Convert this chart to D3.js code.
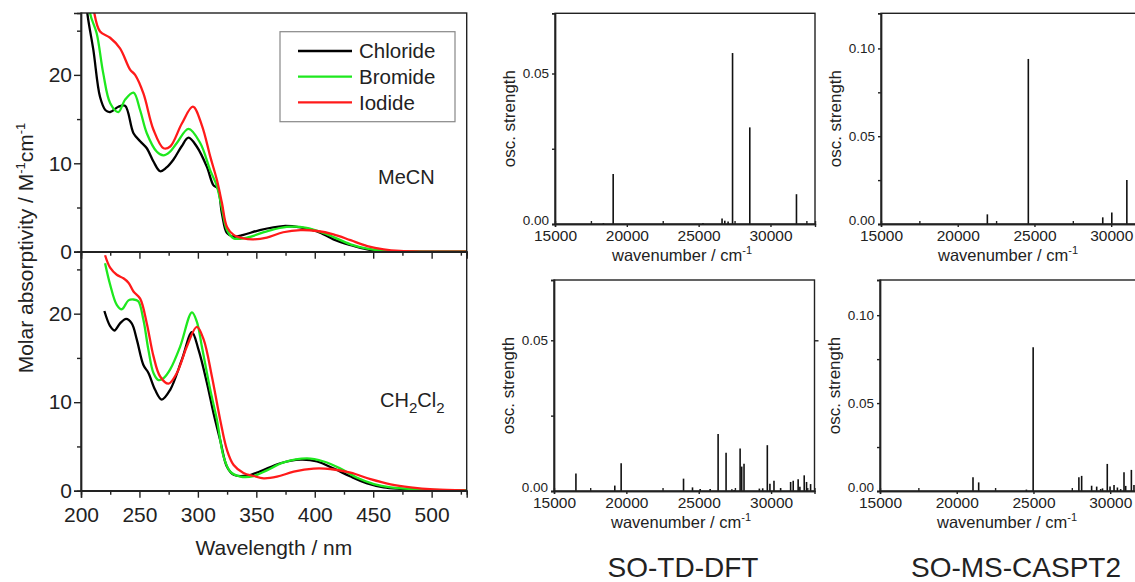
<!DOCTYPE html>
<html>
<head>
<meta charset="utf-8">
<script src="https://cdnjs.cloudflare.com/ajax/libs/d3/7.8.5/d3.min.js"></script>
<style>
  body { margin: 0; background: #fff; }
  svg { display: block; }
</style>
</head>
<body>
<div id="chart"></div>
<script>
// absorption spectra, [wavelength nm, eps / 1000 M-1cm-1]
var mecnChloride = [[203, 31], [205.4, 27], [210.6, 22.8], [216.3, 17.5], [221, 16], [225, 15.8], [232, 16.4], [237.7, 16.5],
  [244.9, 13.4], [250.6, 12.5], [256.3, 11.7], [262, 10.2], [267.7, 9.1], [273, 9.5], [279, 10.4], [286, 11.9], [292, 12.9],
  [299, 11.9], [307.7, 9.6], [313.4, 7.5], [316.9, 7.2], [320.6, 4.3], [324.9, 2.1], [330.6, 1.7], [339, 1.9], [353, 2.45],
  [373, 2.9], [387.7, 2.75], [402, 2.3], [416, 1.4], [430.6, 0.75], [444.9, 0.26], [459, 0.07], [480, 0.01], [530, 0]];
var mecnBromide = [[205, 32], [207.7, 27], [213.4, 24.7], [219, 20.2], [225, 16.8], [232, 15.8], [237.7, 17.2], [244.9, 18.0],
  [250.6, 16.0], [256.3, 13.4], [264.9, 11.3], [270.6, 10.9], [276, 11.3], [282, 12.3], [292, 13.9], [302, 12.3],
  [310.6, 9.2], [316.3, 7.4], [320.6, 4.9], [324.9, 2.45], [330.6, 1.5], [342, 1.6], [359, 2.3], [376, 2.8], [393, 2.7],
  [410.6, 1.96], [430.6, 0.83], [444.9, 0.34], [459, 0.1], [480, 0.02], [530, 0]];
var mecnIodide = [[209, 31], [211.4, 27], [216.3, 24.9], [224.9, 24.2], [233.4, 23.0], [242, 20.6], [246.3, 20.0], [253.4, 17.9],
  [262, 13.8], [270.6, 11.7], [276.3, 11.9], [286.3, 14.5], [295.7, 16.4], [303.4, 14.3], [310.6, 10.75], [316.3, 8.1],
  [320.6, 5.5], [324.9, 2.8], [330.6, 1.9], [339, 1.5], [347.7, 1.4], [359, 1.6], [373, 2.2], [387.7, 2.45], [402, 2.34],
  [416, 1.96], [430.6, 1.3], [444.9, 0.64], [459, 0.26], [473, 0.08], [495, 0.01], [530, 0]];

var dcmChloride = [[220, 20.3], [224.9, 18.6], [228.6, 18.1], [233.4, 18.9], [238.6, 19.4], [243.4, 18.9], [247.7, 17.1],
  [253.4, 14.2], [257.7, 13.3], [263.4, 11.4], [269.1, 10.3], [276.3, 11.4], [286.3, 14.8], [294.9, 17.9], [300.6, 15.9],
  [307.7, 12.2], [313.4, 8.75], [319.1, 5.7], [324.9, 2.7], [330.6, 1.8], [342, 1.7], [353.4, 2.2], [370.6, 3.1],
  [387.7, 3.5], [402, 3.3], [416.3, 2.5], [430.6, 1.6], [444.9, 0.83], [459, 0.38], [473, 0.2], [487.7, 0.1], [530, 0.03]];
var dcmBromide = [[220.6, 25.7], [224.9, 23.3], [230.6, 21.0], [234.9, 20.5], [240.6, 21.5], [244.9, 21.6], [249, 21.4],
  [253.4, 19.3], [257.7, 15.9], [262, 13.3], [266.3, 12.5], [270.6, 12.7], [276.3, 13.7], [284.9, 16.3], [294.9, 20.15],
  [299.1, 19.1], [303.4, 16.3], [310.6, 11.4], [316.3, 8.0], [322, 3.85], [327.7, 2.15], [336.3, 1.6], [347.7, 1.66],
  [359, 2.3], [373.4, 3.2], [393.4, 3.66], [407.7, 3.3], [422, 2.5], [436.3, 1.47], [450.6, 0.75], [464.9, 0.38],
  [487.7, 0.15], [530, 0.03]];
var dcmIodide = [[220.6, 26.6], [224.9, 25.2], [230.6, 24.4], [236.3, 24.0], [240.6, 23.5], [244.9, 22.5], [250.6, 21.7],
  [256.3, 18.9], [262, 15.2], [267.7, 12.9], [274.9, 12.1], [282, 13.3], [290.6, 16.3], [299.1, 18.5], [304.9, 17.1],
  [312, 12.9], [319.1, 8.0], [324.9, 4.6], [330.6, 2.9], [339, 2.0], [347.7, 1.66], [356.3, 1.4], [367.7, 1.58],
  [382, 2.15], [399, 2.5], [413.4, 2.45], [430.6, 2.04], [447.7, 1.3], [464.9, 0.72], [482, 0.38], [502, 0.15], [529, 0.04]];

var seriesNames = ["Chloride", "Bromide", "Iodide"];
var seriesColors = ["#000000", "#1ee81e", "#ff1a1a"];

// calculated transitions: wavenumber (cm-1) and oscillator strength
var tddftTopNu = [18370, 19050, 25300, 26630, 26820, 27050, 27360, 28560, 31810];
var tddftTopF = [0.0003, 0.0166, 0.0003, 0.0018, 0.0011, 0.0008, 0.0568, 0.0321, 0.0099];
var casptTopNu = [21930, 24600, 29450, 30040, 31020];
var casptTopF = [0.0055, 0.094, 0.0038, 0.0065, 0.0251];
var tddftBotNu = [16515, 19200, 19640, 23950, 24570, 25100, 25790, 26340, 26890, 27290, 27450, 27860, 27970, 28130,
  29190, 29420, 29740, 29920, 30200, 30660, 31350, 31530, 31870, 31990, 32290, 32450, 32730];
var tddftBotF = [0.0058, 0.0018, 0.0092, 0.0041, 0.0012, 0.0007, 0.0007, 0.0189, 0.0127, 0.0006, 0.0003, 0.0141, 0.0081, 0.009,
  0.0008, 0.0009, 0.0152, 0.0024, 0.0034, 0.001, 0.003, 0.0034, 0.0039, 0.0014, 0.0052, 0.003, 0.0023];
var casptBotNu = [21060, 21430, 24540, 24980, 27960, 28140, 28790, 29120, 29380, 29500, 29810, 29990, 30250, 30470,
  30680, 30900, 31010, 31380, 31550];
var casptBotF = [0.0078, 0.0049, 0.0008, 0.0817, 0.0078, 0.0086, 0.003, 0.0025, 0.0011, 0.0015, 0.0154, 0.0025, 0.0034,
  0.002, 0.0011, 0.0106, 0.0029, 0.012, 0.0034];

var absTicks = [0, 10, 20];
var absMinor = [5, 15, 25];
var wlTicks = [200, 250, 300, 350, 400, 450, 500];
var wlMinor = [225, 275, 325, 375, 425, 475, 525];
var nuTicks = [15000, 20000, 25000, 30000];
var nuMinor = [17500, 22500, 27500, 32500];

var svgWidth = 1135;
var svgHeight = 582;
var font = "'Liberation Sans', Arial, Helvetica, sans-serif";
var ink = "#222";

var svg = d3.select("#chart")
  .append("svg")
  .attr("width", svgWidth)
  .attr("height", svgHeight)
  .style("font-family", font);

function styleAxis(g, size) {
  g.selectAll("path, line").attr("stroke", ink).attr("stroke-width", 1.4);
  g.selectAll("text").attr("fill", "#222").style("font-family", font).style("font-size", size + "px");
}

// ---------- left: experimental spectra ----------
var wlX = d3.scaleLinear().domain([200, 530]).range([81, 466.7]);
var topY = d3.scaleLinear().domain([0, 27]).range([251.7, 13]);
var botY = d3.scaleLinear().domain([0, 27]).range([490.7, 251.7]);

svg.append("clipPath").attr("id", "clipTop")
  .append("rect").attr("x", 81).attr("y", 13).attr("width", 385.7).attr("height", 238.7);
svg.append("clipPath").attr("id", "clipBot")
  .append("rect").attr("x", 81).attr("y", 251.7).attr("width", 385.7).attr("height", 239);

function drawAbsPanel(yScale, data, clipId, showXLabels) {
  var g = svg.append("g");
  var line = d3.line()
    .x(d => wlX(d[0]))
    .y(d => yScale(d[1]))
    .curve(d3.curveCatmullRom.alpha(0.5));

  g.append("g").attr("clip-path", "url(#" + clipId + ")")
    .selectAll("path")
    .data(data)
    .enter()
    .append("path")
    .attr("d", d => line(d))
    .attr("fill", "none")
    .attr("stroke", (d, i) => seriesColors[i])
    .attr("stroke-width", 2.3);

  var y0 = yScale(0);
  var yTopPx = yScale(27);

  // frame
  g.append("rect")
    .attr("x", wlX(200)).attr("y", yTopPx)
    .attr("width", wlX(530) - wlX(200)).attr("height", y0 - yTopPx)
    .attr("fill", "none").attr("stroke", ink).attr("stroke-width", 1.4);

  var leftMajor = g.append("g").attr("transform", "translate(81,0)")
    .call(d3.axisLeft(yScale).tickValues(absTicks).tickSize(7).tickPadding(2).tickFormat(d3.format("d")));
  styleAxis(leftMajor, 21);
  var leftMinor = g.append("g").attr("transform", "translate(81,0)")
    .call(d3.axisLeft(yScale).tickValues(absMinor).tickSize(4).tickFormat(""));
  styleAxis(leftMinor, 21);

  var bottomMajor = g.append("g").attr("transform", "translate(0," + y0 + ")")
    .call(d3.axisBottom(wlX).tickValues(wlTicks).tickSize(7).tickPadding(9)
      .tickFormat(showXLabels ? d3.format("d") : ""));
  styleAxis(bottomMajor, 21);
  var bottomMinor = g.append("g").attr("transform", "translate(0," + y0 + ")")
    .call(d3.axisBottom(wlX).tickValues(wlMinor).tickSize(4).tickFormat(""));
  styleAxis(bottomMinor, 21);
  return g;
}

drawAbsPanel(topY, [mecnChloride, mecnBromide, mecnIodide], "clipTop", false);
drawAbsPanel(botY, [dcmChloride, dcmBromide, dcmIodide], "clipBot", true);

// legend
var legend = svg.append("g");
legend.append("rect")
  .attr("x", 280).attr("y", 31.7).attr("width", 175).attr("height", 90)
  .attr("fill", "#fff").attr("stroke", "#888").attr("stroke-width", 1.2);
seriesNames.forEach(function (name, i) {
  var ly = 51 + i * 25.7;
  legend.append("line")
    .attr("x1", 298).attr("x2", 352).attr("y1", ly).attr("y2", ly)
    .attr("stroke", seriesColors[i]).attr("stroke-width", 2.3);
  legend.append("text")
    .attr("x", 359).attr("y", ly + 7.2)
    .style("font-size", "20.5px").attr("fill", "#222")
    .text(name);
});

// solvent labels
svg.append("text").attr("x", 378).attr("y", 184)
  .style("font-size", "20px").attr("fill", "#222").text("MeCN");
var dcm = svg.append("text").attr("x", 380).attr("y", 406.7)
  .style("font-size", "20px").attr("fill", "#222");
dcm.append("tspan").text("CH");
dcm.append("tspan").attr("dy", 6).style("font-size", "15px").text("2");
dcm.append("tspan").attr("dy", -6).text("Cl");
dcm.append("tspan").attr("dy", 6).style("font-size", "15px").text("2");

// axis titles
svg.append("text")
  .attr("x", wlX(365)).attr("y", 555)
  .attr("text-anchor", "middle")
  .style("font-size", "21px").attr("fill", "#222")
  .text("Wavelength / nm");

var yTitle = svg.append("text")
  .attr("transform", "translate(33,248) rotate(-90)")
  .attr("text-anchor", "middle")
  .style("font-size", "21px").attr("fill", "#222");
yTitle.append("tspan").text("Molar absorptivity / M");
yTitle.append("tspan").attr("dy", -8).style("font-size", "13px").text("-1");
yTitle.append("tspan").attr("dy", 8).text("cm");
yTitle.append("tspan").attr("dy", -8).style("font-size", "13px").text("-1");

// ---------- right: calculated stick spectra ----------
function drawStickPanel(left, right, top, bottom, nuMax, fMax, fTicks, fMinor, nu, f, extraRightTick) {
  var g = svg.append("g");
  var x = d3.scaleLinear().domain([15000, nuMax]).range([left, right]);
  var y = d3.scaleLinear().domain([0, fMax]).range([bottom, top]);

  g.selectAll("line.stick")
    .data(nu)
    .enter()
    .append("line")
    .attr("class", "stick")
    .attr("x1", d => x(d)).attr("x2", d => x(d))
    .attr("y1", y(0))
    .attr("y2", (d, i) => y(f[i]))
    .attr("stroke", "#111")
    .attr("stroke-width", 1.6);

  g.append("rect")
    .attr("x", left).attr("y", top)
    .attr("width", right - left).attr("height", bottom - top)
    .attr("fill", "none").attr("stroke", ink).attr("stroke-width", 1.4);

  var yAx = g.append("g").attr("transform", "translate(" + left + ",0)")
    .call(d3.axisLeft(y).tickValues(fTicks).tickSize(3).tickPadding(3).tickFormat(d3.format(".2f")));
  styleAxis(yAx, 13.5);
  // "0.00" sits a little higher so it clears the wavenumber labels
  yAx.selectAll("text").attr("dy", d => d === 0 ? "0em" : "0.32em");
  var yMin = g.append("g").attr("transform", "translate(" + left + ",0)")
    .call(d3.axisLeft(y).tickValues(fMinor).tickSize(3).tickFormat(""));
  styleAxis(yMin, 13.5);

  var xAx = g.append("g").attr("transform", "translate(0," + bottom + ")")
    .call(d3.axisBottom(x).tickValues(nuTicks).tickSize(3).tickPadding(3).tickFormat(d3.format("d")));
  styleAxis(xAx, 15.5);
  var xMin = g.append("g").attr("transform", "translate(0," + bottom + ")")
    .call(d3.axisBottom(x).tickValues(nuMinor).tickSize(-3).tickFormat(""));
  styleAxis(xMin, 15.5);

  if (extraRightTick) {
    var rAx = g.append("g").attr("transform", "translate(" + right + ",0)")
      .call(d3.axisRight(y).tickValues([0.05]).tickSize(4).tickFormat(""));
    styleAxis(rAx, 14);
    rAx.select(".domain").remove();
  }

  var xt = g.append("text")
    .attr("x", left + 127).attr("y", bottom + 37)
    .attr("text-anchor", "middle")
    .style("font-size", "16.5px").attr("fill", "#222");
  xt.append("tspan").text("wavenumber / cm");
  xt.append("tspan").attr("dy", -7).style("font-size", "11px").text("-1");

  g.append("text")
    .attr("transform", "translate(" + (left - 40) + "," + (bottom + top) / 2 + ") rotate(-90)")
    .attr("text-anchor", "middle")
    .style("font-size", "17px").attr("fill", "#222")
    .text("osc. strength");
  return g;
}

drawStickPanel(555, 815, 13.3, 224, 33100, 0.07, [0, 0.05], [0.025], tddftTopNu, tddftTopF, false);
drawStickPanel(881, 1158, 13.3, 224, 33050, 0.12, [0, 0.05, 0.10], [0.025, 0.075], casptTopNu, casptTopF, false);
drawStickPanel(554, 814.5, 280, 491, 33000, 0.07, [0, 0.05], [0.025], tddftBotNu, tddftBotF, true);
drawStickPanel(880, 1157, 280, 491, 33050, 0.12, [0, 0.05, 0.10], [0.025, 0.075], casptBotNu, casptBotF, false);

// method labels
svg.append("text").attr("x", 683).attr("y", 577)
  .attr("text-anchor", "middle").style("font-size", "28px").attr("fill", "#222")
  .text("SO-TD-DFT");
svg.append("text").attr("x", 1016).attr("y", 577)
  .attr("text-anchor", "middle").style("font-size", "28px").attr("fill", "#222")
  .text("SO-MS-CASPT2");
</script>
</body>
</html>
